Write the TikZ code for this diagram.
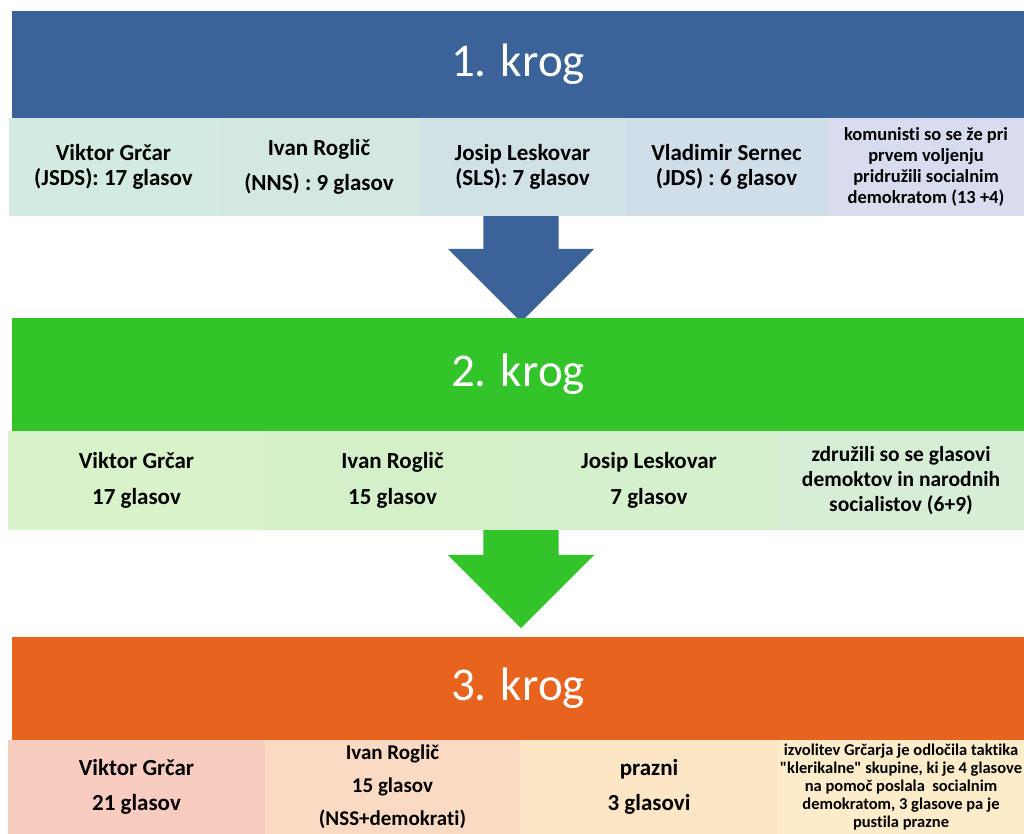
\documentclass[tikz,border=0pt]{standalone}
\usepackage{fontspec}
\setmainfont{Carlito}[Ligatures={NoCommon}]
\usetikzlibrary{
  positioning,
  shapes.arrows
}
\definecolor{krogblue}{RGB}{59,99,153}
\definecolor{kroggreen}{RGB}{51,196,42}
\definecolor{krogorange}{RGB}{232,100,30}
\definecolor{c11}{RGB}{210,234,224}
\definecolor{c12}{RGB}{212,232,226}
\definecolor{c13}{RGB}{208,226,230}
\definecolor{c14}{RGB}{208,222,234}
\definecolor{c15}{RGB}{216,220,238}
\definecolor{c21}{RGB}{216,242,202}
\definecolor{c22}{RGB}{212,240,200}
\definecolor{c23}{RGB}{212,240,204}
\definecolor{c24}{RGB}{214,238,214}
\definecolor{c31}{RGB}{248,204,190}
\definecolor{c32}{RGB}{250,218,194}
\definecolor{c33}{RGB}{252,230,198}
\definecolor{c34}{RGB}{252,236,202}

\begin{document}
\begin{tikzpicture}[x=1pt,y=-1pt,
      krog/.style={
         rectangle,
         anchor=north west,
         minimum width=1012pt,
         inner sep=0pt, outer sep=0pt,
         text=white,
         font=\fontsize{47}{56}\selectfont
      },
      cell/.style={
         rectangle,
         anchor=north west,
         minimum width=#1,
         inner sep=0pt, outer sep=0pt,
         align=center,
         font=\bfseries\fontsize{23}{25.5}\selectfont
      },
      loose/.style={font=\bfseries\fontsize{23}{35.5}\selectfont},
      note/.style={font=\bfseries\fontsize{21.5}{25}\selectfont},
      small note/.style={font=\bfseries\fontsize{18.5}{21}\selectfont},
      tiny note/.style={font=\bfseries\fontsize{16.5}{17.8}\selectfont},
      down/.style={
         single arrow,
         rotate=-90,
         anchor=west,
         inner xsep=0pt, inner ysep=37.5pt, outer sep=0pt,
         single arrow head extend=35.5pt
      }
    ]
    \useasboundingbox (0,0) rectangle (1024,834);

    % 1. krog
    \node (k1) [krog, fill=krogblue, minimum height=107pt] at (12,11) {1. krog};
    \node (n11) [cell=209pt, minimum height=98pt, fill=c11] at (9,118) {Viktor Grčar\\(JSDS): 17 glasov};
    \node (n12) [cell=202pt, minimum height=98pt, fill=c12, loose, right=0pt of n11] {Ivan Roglič\\(NNS) : 9 glasov};
    \node (n13) [cell=205pt, minimum height=98pt, fill=c13, right=0pt of n12] {Josip Leskovar\\(SLS): 7 glasov};
    \node (n14) [cell=203pt, minimum height=98pt, fill=c14, right=0pt of n13] {Vladimir Sernec\\(JDS) : 6 glasov};
    \node (n15) [cell=196pt, minimum height=98pt, fill=c15, small note, right=0pt of n14] {komunisti so se že pri\\prvem voljenju\\pridružili socialnim\\demokratom (13 +4)};
    \node (a1) [down, fill=krogblue, minimum height=106pt] at (521,216) {};

    % 2. krog
    \node (k2) [krog, fill=kroggreen, minimum height=113pt] at (12,318) {2. krog};
    \node (n21) [cell=257pt, minimum height=99pt, fill=c21, loose] at (8,431) {Viktor Grčar\\17 glasov};
    \node (n22) [cell=255pt, minimum height=99pt, fill=c22, loose, right=0pt of n21] {Ivan Roglič\\15 glasov};
    \node (n23) [cell=258pt, minimum height=99pt, fill=c23, loose, right=0pt of n22] {Josip Leskovar\\7 glasov};
    \node (n24) [cell=246pt, minimum height=99pt, fill=c24, note, right=0pt of n23] {združili so se glasovi\\demoktov in narodnih\\socialistov (6+9)};
    \node (a2) [down, fill=kroggreen, minimum height=98pt] at (521,530) {};

    % 3. krog
    \node (k3) [krog, fill=krogorange, minimum height=103pt] at (12,637) {3. krog};
    \node (n31) [cell=257pt, minimum height=94pt, fill=c31, loose] at (8,740) {Viktor Grčar\\21 glasov};
    \node (n32) [cell=255pt, minimum height=94pt, fill=c32, font=\bfseries\fontsize{21}{33}\selectfont, right=0pt of n31] {Ivan Roglič\\15 glasov\\(NSS+demokrati)};
    \node (n33) [cell=258pt, minimum height=94pt, fill=c33, loose, right=0pt of n32] {prazni\\3 glasovi};
    \node (n34) [cell=246pt, minimum height=94pt, fill=c34, tiny note, right=0pt of n33] {izvolitev Grčarja je odločila taktika\\\textquotedbl klerikalne\textquotedbl{} skupine, ki je 4 glasove\\na pomoč poslala\ \ socialnim\\demokratom, 3 glasove pa je\\pustila prazne};
\end{tikzpicture}
\end{document}
